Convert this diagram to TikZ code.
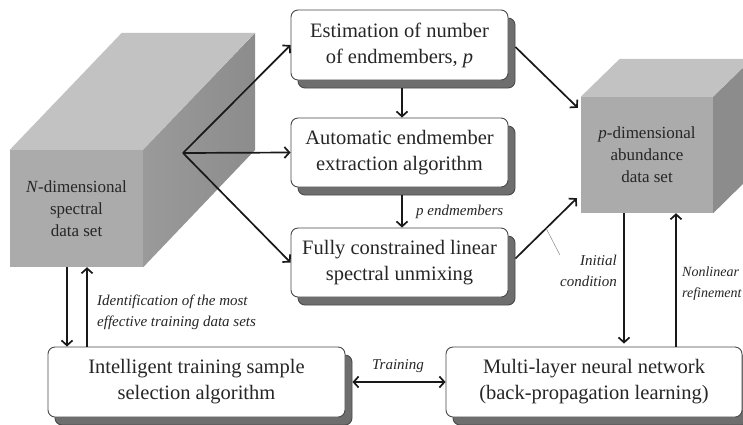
\documentclass[tikz,border=0pt]{standalone}
\usepackage{fontspec}
\setmainfont{Liberation Serif}
\usetikzlibrary{arrows.meta,shadows,calc}
\definecolor{txt}{HTML}{262626}
\definecolor{boxborder}{HTML}{484848}
\definecolor{shadowgray}{HTML}{6E6E6E}
\definecolor{shadowborder}{HTML}{4A4A4A}
\definecolor{cubefront}{HTML}{ABABAB}
\definecolor{cubetop}{HTML}{C2C2C2}
\definecolor{cubesideA}{HTML}{9A9A9A}
\definecolor{cubesideB}{HTML}{8C8C8C}
\definecolor{leader}{HTML}{8A8A8A}
\tikzset{
  box/.style={draw=boxborder, fill=white, rounded corners=7pt, line width=0.9pt,
    align=center, font=\fontsize{20.5}{26}\selectfont, text=txt, inner sep=0pt,
    drop shadow={shadow xshift=7pt, shadow yshift=-8pt, fill=shadowgray,
      draw=shadowborder, opacity=1}},
  front/.style={fill=cubefront, inner sep=0pt, align=center, text=txt,
    font=\fontsize{17}{22}\selectfont},
  arr/.style={draw=black!90, line width=1.7pt,
    -{Straight Barb[length=5pt,width=11pt]}},
  darr/.style={draw=black!90, line width=1.7pt,
    {Straight Barb[length=5pt,width=11pt]}-{Straight Barb[length=5pt,width=11pt]}},
  lbl/.style={font=\itshape\fontsize{15}{21}\selectfont, text=txt, inner sep=0pt}
}
\begin{document}
\begin{tikzpicture}[x=1pt,y=-1pt]
\useasboundingbox[fill=white] (0,0) rectangle (743,424);

% left cube
\node[front, minimum width=133pt, minimum height=117pt] (lc) at (76.5,208.5)
  {\textit{N}-dimensional\\spectral\\data set};
\fill[cubetop] (lc.north west) -- ++(112,-117) -- ++(133,0) -- (lc.north east) -- cycle;
\shade[left color=cubesideA, right color=cubesideB] (lc.north east) -- ++(112,-117) -- ++(0,117) -- (lc.south east) -- cycle;

% right cube
\node[front, minimum width=132pt, minimum height=116pt] (rc) at (647,155)
  {\textit{p}-dimensional\\abundance\\data set};
\fill[cubetop] (rc.north west) -- ++(39,-38) -- ++(132,0) -- (rc.north east) -- cycle;
\fill[cubesideB] (rc.north east) -- ++(39,-38) -- ++(0,116) -- (rc.south east) -- cycle;

% boxes
\node[box, minimum width=217pt, minimum height=70pt] (b1) at (399.5,45)
  {Estimation of number\\of endmembers, \textit{p}};
\node[box, minimum width=217pt, minimum height=69pt] (b2) at (399.5,152.5)
  {Automatic endmember\\extraction algorithm};
\node[box, minimum width=217pt, minimum height=69pt] (b3) at (399.5,262.5)
  {Fully constrained linear\\spectral unmixing};
\node[box, minimum width=297pt, minimum height=70pt] (b4) at (196.5,382)
  {Intelligent training sample\\selection algorithm};
\node[box, minimum width=296pt, minimum height=70pt] (b5) at (594,382)
  {Multi-layer neural network\\(back-propagation learning)};

% hub arrows from left cube
\coordinate (hub) at (183,153);
\draw[arr] (hub) -- (b1.west);
\draw[arr] (hub) -- (b2.west);
\draw[arr] (hub) -- (b3.west);

% vertical arrows in middle column
\draw[arr] ([shift={(2.5,8)}]b1.south) -- ([xshift=2.5pt]b2.north);
\draw[arr] ([shift={(2.5,8)}]b2.south) -- ([xshift=2.5pt]b3.north);
\node[lbl, anchor=west] (pend) at (416,212) {p endmembers};

% to right cube
\draw[arr] ([shift={(7,2)}]b1.east) -- ([shift={(-3,11)}]rc.north west);
\draw[arr] ([shift={(7,-4)}]b3.east) coordinate (b3out) -- ([shift={(-4,-15)}]rc.south west) coordinate (rcin);
\coordinate (lstart) at ($(b3out)!0.5!(rcin)$);
\node[lbl, anchor=north east, align=right] (init) at (617,255) {Initial\\condition};
\draw[leader, line width=0.5pt] (lstart) -- (init.north west);

% right cube <-> neural network
\draw[arr] ([xshift=-23pt]rc.south) -- ([xshift=-23pt,yshift=3pt]rc.south |- b5.north);
\draw[arr] ([xshift=29pt]rc.south |- b5.north) -- ([xshift=29pt]rc.south);
\node[lbl, font=\itshape\fontsize{14}{21}\selectfont, anchor=north west, align=left] (nlr) at (682,267) {Nonlinear\\refinement};

% left cube <-> selection
\draw[arr] ([xshift=-9.5pt]lc.south) -- ([xshift=-9.5pt]lc.south |- b4.north);
\draw[arr] ([xshift=10.5pt]lc.south |- b4.north) -- ([xshift=10.5pt]lc.south);
\node[lbl, anchor=north west, align=left] (ident) at (97,295)
  {Identification of the most\\effective training data sets};

% training
\draw[darr] ([xshift=7pt]b4.east) -- (b5.west);
\node[lbl] (train) at (398,366) {Training};
\end{tikzpicture}
\end{document}
